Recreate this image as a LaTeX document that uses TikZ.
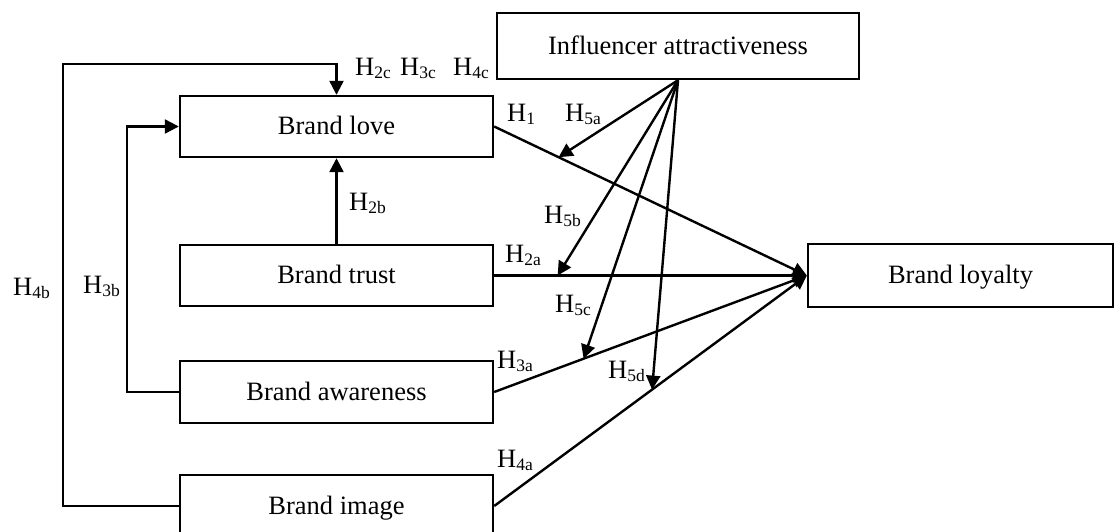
\documentclass[tikz,border=0pt]{standalone}
\usepackage{fontspec}
\setmainfont{Liberation Serif}
\usetikzlibrary{arrows.meta}
\newcommand{\hyp}[1]{H\raisebox{-3pt}{\fontsize{17.5}{17.5}\selectfont #1}}
\begin{document}
\begin{tikzpicture}[x=1pt,y=-1pt,
  box/.style={draw,line width=2.4pt,minimum width=313pt,minimum height=61pt,inner sep=0pt,
    text height=20pt,text depth=3.4pt,font=\fontsize{26.5}{30}\selectfont},
  arr/.style={line width=2.4pt,-{Triangle[length=14pt,width=14pt]}},
  lab/.style={anchor=base west,inner sep=0pt,font=\fontsize{26.5}{30}\selectfont}]
\useasboundingbox (0,0) rectangle (1115,531);
% boxes
\node[box] (love) at (336.5,126.5) {Brand love};
\node[box] (trust) at (336.5,275.5) {Brand trust};
\node[box,minimum height=62pt] (aware) at (336.5,392) {Brand awareness};
\node[box,minimum height=62pt] (image) at (336.5,506) {Brand image};
\node[box,minimum width=305pt,minimum height=63pt] (loyal) at (960.5,275.5) {Brand loyalty};
\node[box,minimum width=362pt,minimum height=66pt] (infl) at (678,46) {Influencer attractiveness};
% loops
\coordinate (o1) at (63,64);
\coordinate (i1) at (127,126.5);
\draw[arr] (image.west) -| (o1) -| (love.north);
\draw[arr] (aware.west) -| (i1) -- (love.west);
\draw[arr] (trust.north) -- (love.south);
% direct paths to loyalty
\draw[arr] (love.east) -- coordinate[pos=0.206] (m1) (loyal.west);
\draw[arr] (trust.east) -- coordinate[pos=0.203] (m2) (loyal.west);
\draw[arr] (aware.east) -- coordinate[pos=0.286] (m3) (loyal.west);
\draw[arr] (image.east) -- coordinate[pos=0.505] (m4) (loyal.west);
% moderating arrows
\draw[arr] (infl.south) -- (m1);
\draw[arr] (infl.south) -- (m2);
\draw[arr] (infl.south) -- (m3);
\draw[arr] (infl.south) -- (m4);
% labels
\node[lab] (l2c) at (355,75) {\hyp{2c}};
\node[lab] (l3c) at (400,75) {\hyp{3c}};
\node[lab] (l4c) at (453,75) {\hyp{4c}};
\node[lab] (l1) at (507,121) {\hyp{1}};
\node[lab] (l5a) at (565,121) {\hyp{5a}};
\node[lab] (l2b) at (349,210) {\hyp{2b}};
\node[lab] (l5b) at (544,223) {\hyp{5b}};
\node[lab] (l2a) at (505,262) {\hyp{2a}};
\node[lab] (l5c) at (555,312) {\hyp{5c}};
\node[lab] (l3a) at (497,368) {\hyp{3a}};
\node[lab] (l5d) at (608,378) {\hyp{5d}};
\node[lab] (l4a) at (497,467) {\hyp{4a}};
\node[lab] (l4b) at (13,295) {\hyp{4b}};
\node[lab] (l3b) at (83,293) {\hyp{3b}};
\end{tikzpicture}
\end{document}
